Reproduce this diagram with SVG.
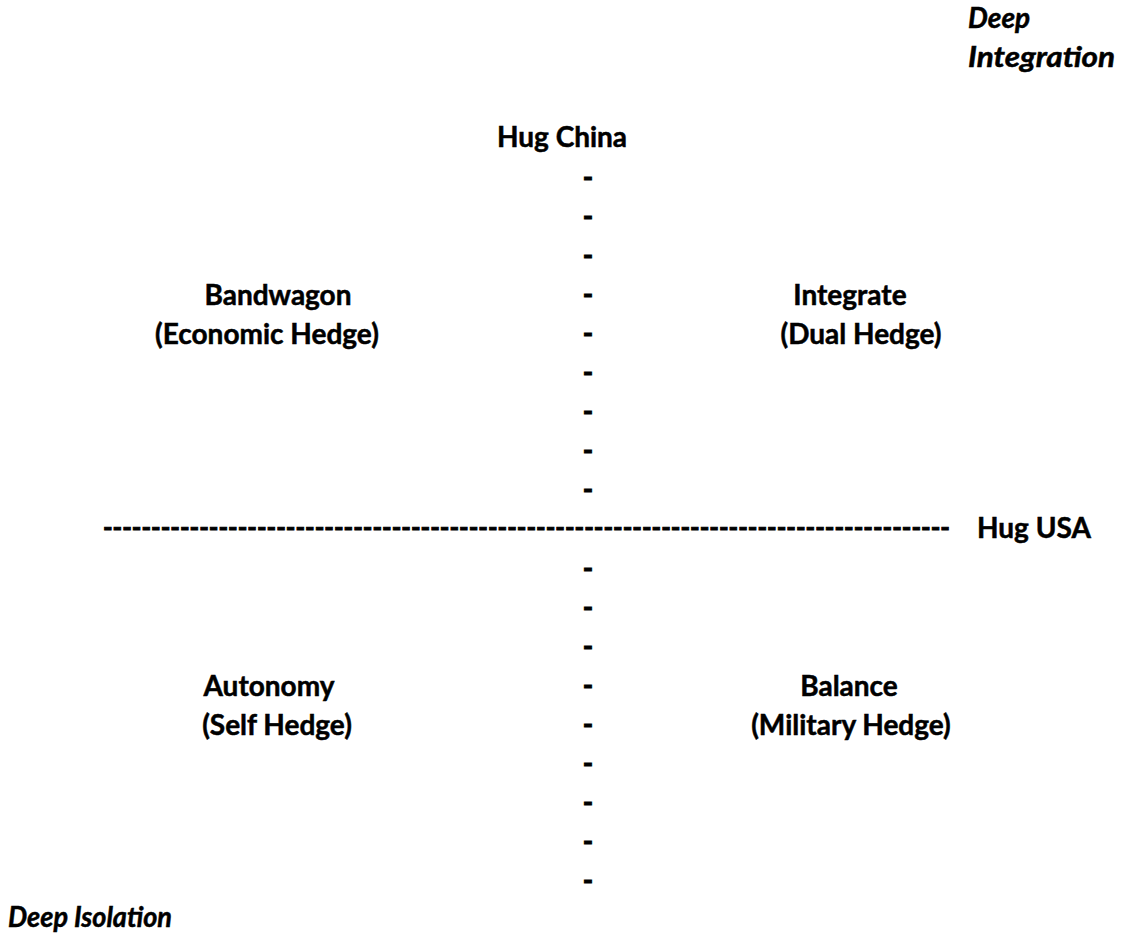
<svg xmlns="http://www.w3.org/2000/svg" width="1121" height="935" viewBox="0 0 1121 935">
  <style>
    text { font-family: Lato, "Liberation Sans", sans-serif; font-weight: bold; font-size: 28px; fill: #000; stroke: #000; stroke-width: 0.5px; }
    .it { font-style: italic; }
    .mid { text-anchor: middle; }
    .dash { text-anchor: middle; stroke-width: 0.9px; }
    .rule { font-size: 26px; stroke-width: 0.9px; }
  </style>
  <rect width="1121" height="935" fill="#fff"/>

  <!-- axes drawn as rows of hyphens -->
  <g id="axes">
    <g id="axis-vertical-top">
      <text class="dash" x="588" y="187">-</text>
      <text class="dash" x="588" y="226">-</text>
      <text class="dash" x="588" y="265">-</text>
      <text class="dash" x="588" y="304">-</text>
      <text class="dash" x="588" y="343">-</text>
      <text class="dash" x="588" y="382">-</text>
      <text class="dash" x="588" y="421">-</text>
      <text class="dash" x="588" y="460">-</text>
      <text class="dash" x="588" y="499">-</text>
    </g>
    <g id="axis-vertical-bottom">
      <text class="dash" x="588" y="578">-</text>
      <text class="dash" x="588" y="617">-</text>
      <text class="dash" x="588" y="656">-</text>
      <text class="dash" x="588" y="695">-</text>
      <text class="dash" x="588" y="734">-</text>
      <text class="dash" x="588" y="773">-</text>
      <text class="dash" x="588" y="812">-</text>
      <text class="dash" x="588" y="851">-</text>
      <text class="dash" x="588" y="890">-</text>
    </g>
    <g id="axis-horizontal">
      <text class="rule" x="103" y="537" textLength="847" lengthAdjust="spacingAndGlyphs">----------------------------------------------------------------------------------------</text>
    </g>
  </g>

  <g id="deep-integration">
    <text class="it" x="968" y="28" font-size="30">Deep</text>
    <text class="it" x="968" y="67" font-size="30" textLength="147" lengthAdjust="spacingAndGlyphs">Integration</text>
  </g>

  <g id="hug-china">
    <text class="mid" x="562" y="147">Hug China</text>
  </g>

  <g id="hug-usa">
    <text x="977" y="538">Hug USA</text>
  </g>

  <g id="bandwagon">
    <text class="mid" x="278" y="305">Bandwagon</text>
    <text class="mid" x="267" y="344">(Economic Hedge)</text>
  </g>

  <g id="integrate">
    <text class="mid" x="850" y="305">Integrate</text>
    <text class="mid" x="861" y="344">(Dual Hedge)</text>
  </g>

  <g id="autonomy">
    <text class="mid" x="269" y="696">Autonomy</text>
    <text class="mid" x="277" y="735">(Self Hedge)</text>
  </g>

  <g id="balance">
    <text class="mid" x="849" y="696">Balance</text>
    <text class="mid" x="851" y="735">(Military Hedge)</text>
  </g>

  <g id="deep-isolation">
    <text class="it" x="8" y="927" textLength="164" lengthAdjust="spacingAndGlyphs">Deep Isolation</text>
  </g>
</svg>
